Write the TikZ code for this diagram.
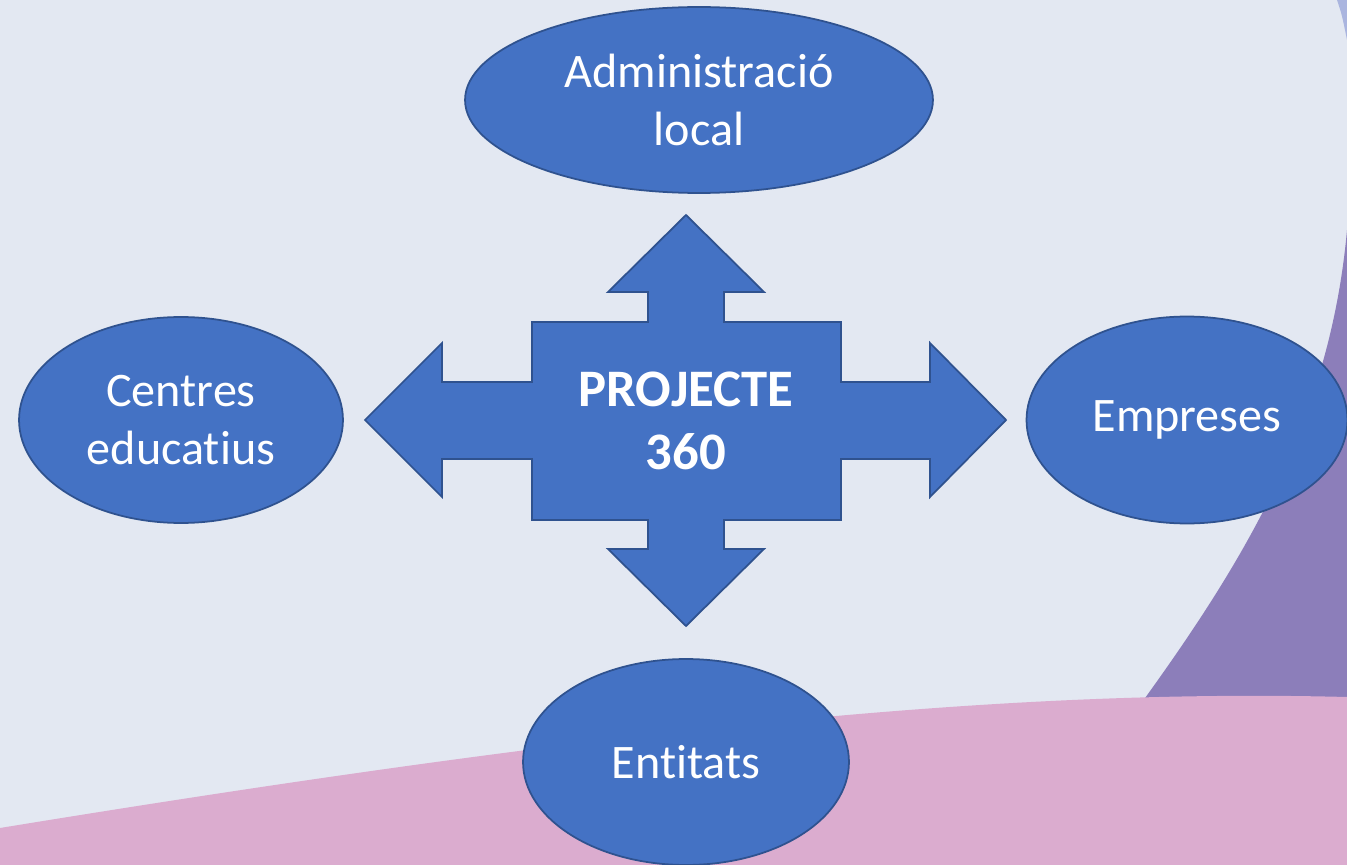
\documentclass[tikz,border=0pt]{standalone}
\usepackage{fontspec}
\setmainfont[Ligatures=NoCommon]{Carlito}
\usepackage{tikz}
\usetikzlibrary{shapes.geometric}

\definecolor{slidebg}{HTML}{E3E8F2}
\definecolor{wavepink}{HTML}{DBACCF}
\definecolor{wavepurple}{HTML}{8C7EBA}
\definecolor{wavelilac}{HTML}{AAB5DF}
\definecolor{boxfill}{HTML}{4472C4}
\definecolor{boxline}{HTML}{2F528F}

\begin{document}
\begin{tikzpicture}[x=0.02cm, y=-0.02cm, line width=1pt,
  partner/.style={ellipse, fill=boxfill, draw=boxline, inner sep=0pt,
    text=white, align=center, font=\fontsize{27.4}{33}\selectfont},
  hubtext/.style={text=white, align=center, inner sep=0pt,
    font=\fontsize{30}{36.3}\selectfont\bfseries}]

  \useasboundingbox (0,0) rectangle (1347,865);

  % slide background
  \fill[slidebg] (0,0) rectangle (1347,865);
  \fill[wavelilac] (1337,0) .. controls (1342,15) .. (1347,40) -- (1347,0) -- cycle;
  \fill[wavepurple] (1347,230) .. controls (1330,420) and (1245,560) .. (1140,705)
    -- (1347,705) -- cycle;
  \fill[wavepink] (0,828) .. controls (600,730) and (1000,688) .. (1347,697)
    -- (1347,865) -- (0,865) -- cycle;

  \begin{scope}

  % four-way arrow
  \filldraw[fill=boxfill, draw=boxline]
    (686,215) -- (764,292) -- (724,292) -- (724,322) -- (841,322) -- (841,382)
    -- (930,382) -- (930,343) -- (1006,420) -- (930,497) -- (930,459) -- (841,459)
    -- (841,520) -- (724,520) -- (724,549) -- (764,549) -- (686,626) -- (608,549)
    -- (648,549) -- (648,520) -- (532,520) -- (532,459) -- (442,459) -- (442,497)
    -- (365,420) -- (442,343) -- (442,382) -- (532,382) -- (532,322) -- (648,322)
    -- (648,292) -- (608,292) -- cycle;

  \draw (686,421) node[hubtext, name=hub] {PROJECTE\\360};

  \draw (699,100) node[partner, minimum width=9.36cm, minimum height=3.72cm, name=admin] {Administració\\local};
  \draw (181,420) node[partner, minimum width=6.48cm, minimum height=4.12cm, name=centres] {Centres\\educatius};
  \draw (1187,420) node[partner, minimum width=6.42cm, minimum height=4.14cm, name=empreses] {Empreses};
  \draw (686,762) node[partner, minimum width=6.52cm, minimum height=4.12cm, name=entitats] {Entitats};

  \end{scope}

\end{tikzpicture}
\end{document}
